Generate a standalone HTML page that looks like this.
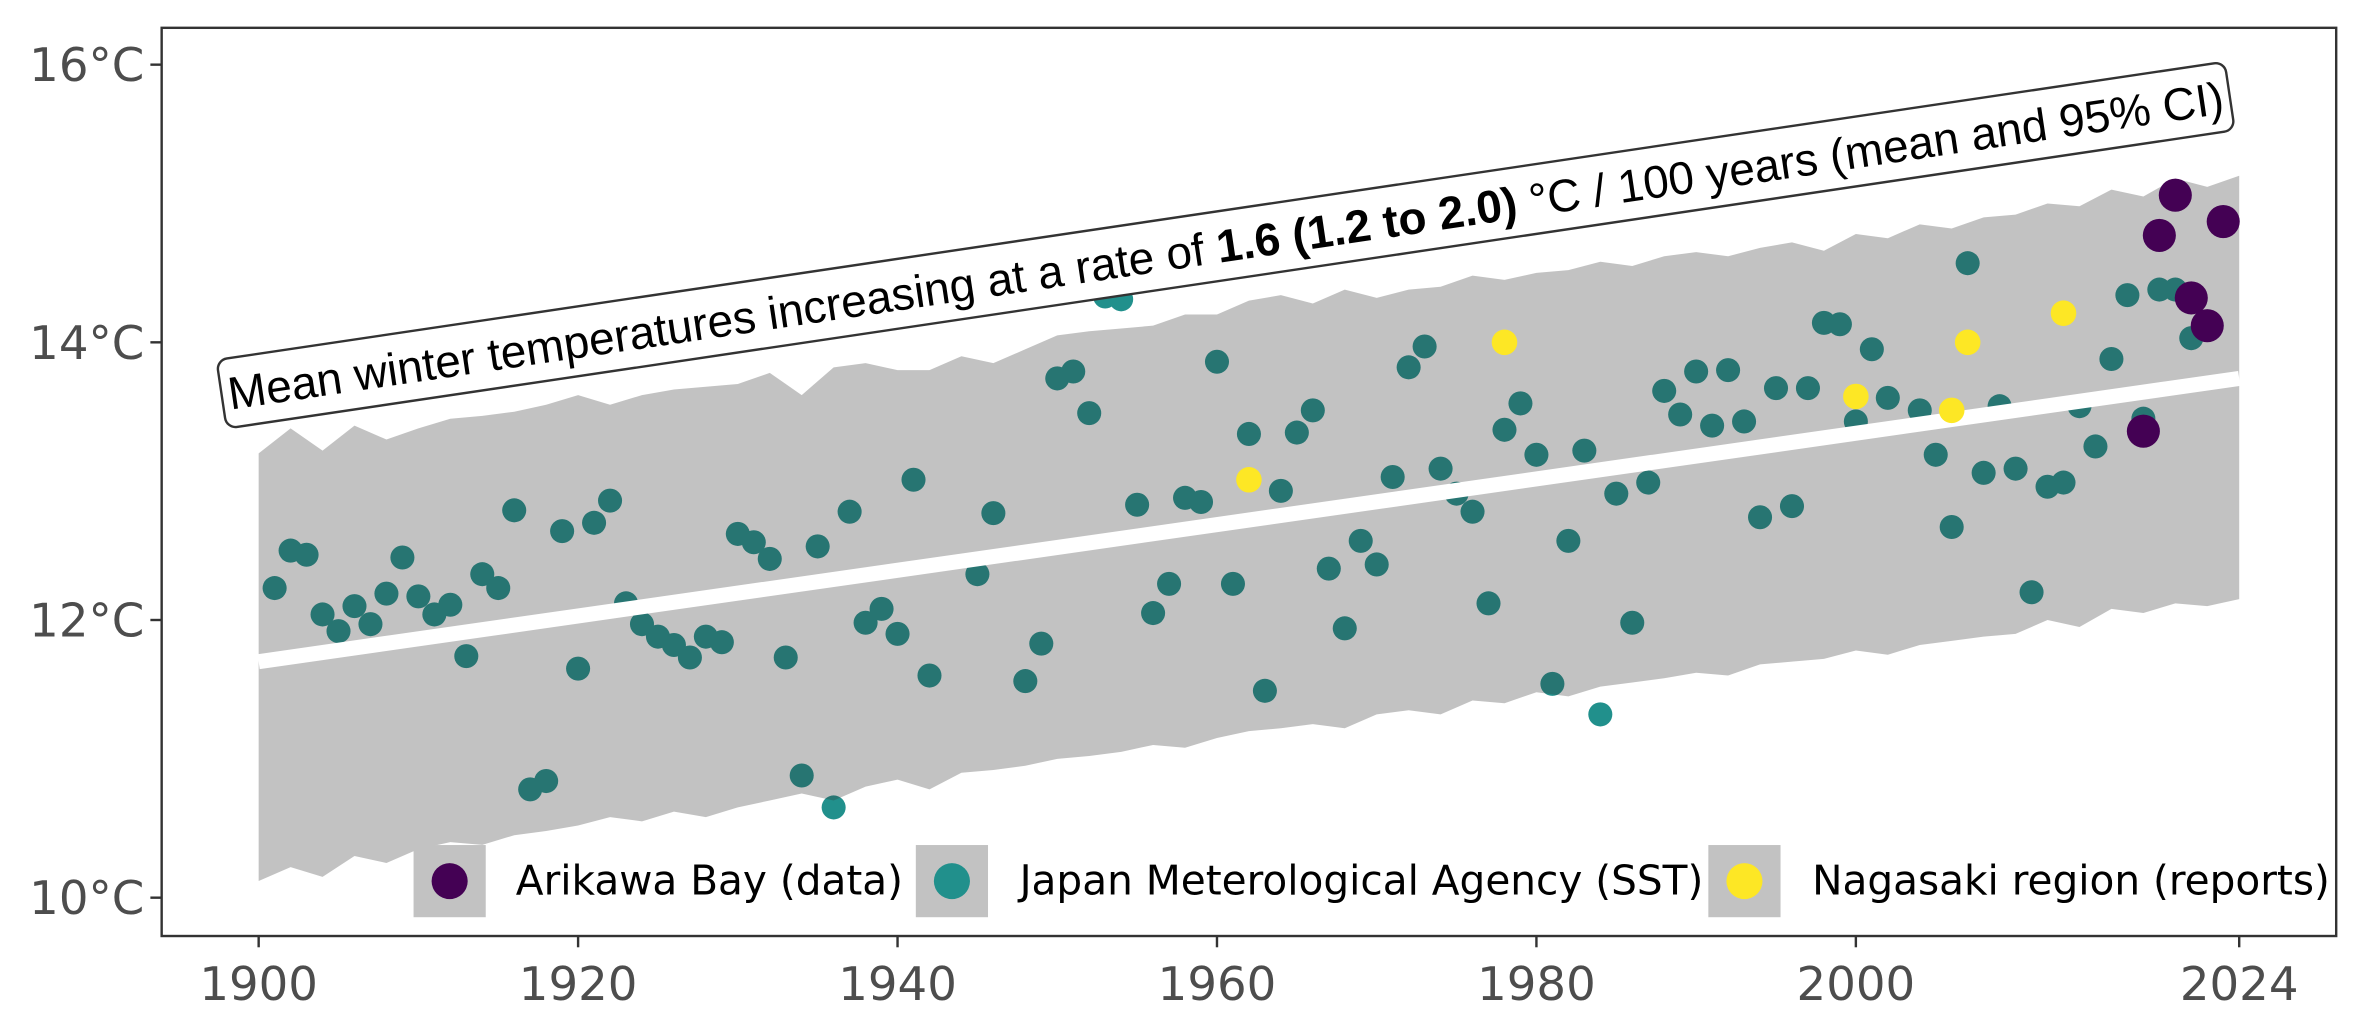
<!DOCTYPE html>
<html><head><meta charset="utf-8">
<style>
html,body{margin:0;padding:0;background:#fff;overflow:hidden;}
svg{display:block;font-family:"Liberation Sans",sans-serif;}
</style></head>
<body>
<svg id="chart" width="2358" height="1033" viewBox="0 0 1568 687" preserveAspectRatio="none" xmlns="http://www.w3.org/2000/svg">
<rect width="1568" height="687" fill="#fff"/>
<g id="points-under"></g>
<g id="ribbon-layer"></g>
<g id="over"></g>
<g id="axes"></g>
<g id="annot"></g>
<g id="legend"></g>
</svg>
<script>
const sstYears=[1901,1902,1903,1904,1905,1906,1907,1908,1909,1910,1911,1912,1913,1914,1915,1916,1917,1918,1919,1920,1921,1922,1923,1924,1925,1926,1927,1928,1929,1930,1931,1932,1933,1934,1935,1936,1937,1938,1939,1940,1941,1942,1945,1946,1948,1949,1950,1951,1952,1953,1954,1955,1956,1957,1958,1959,1960,1961,1962,1963,1964,1965,1966,1967,1968,1969,1970,1971,1972,1973,1974,1975,1976,1977,1978,1979,1980,1981,1982,1983,1984,1985,1986,1987,1988,1989,1990,1991,1992,1993,1994,1995,1996,1997,1998,1999,2000,2001,2002,2004,2005,2006,2007,2008,2009,2010,2011,2012,2013,2014,2015,2016,2017,2018,2019,2020,2021];
const sstTemps=[12.23,12.50,12.47,12.04,11.92,12.10,11.97,12.19,12.45,12.17,12.04,12.11,11.74,12.33,12.23,12.79,10.78,10.84,12.64,11.65,12.70,12.86,12.12,11.97,11.88,11.82,11.73,11.88,11.84,12.62,12.56,12.44,11.73,10.88,12.53,10.65,12.78,11.98,12.08,11.90,13.01,11.60,12.33,12.77,11.56,11.83,13.74,13.79,13.49,14.33,14.31,12.83,12.05,12.26,12.88,12.85,13.86,12.26,13.34,11.49,12.93,13.35,13.51,12.37,11.94,12.57,12.40,13.03,13.82,13.97,13.09,12.91,12.78,12.12,13.37,13.56,13.19,11.54,12.57,13.22,11.32,12.91,11.98,12.99,13.65,13.48,13.79,13.40,13.80,13.43,12.74,13.67,12.82,13.67,14.14,14.13,13.43,13.95,13.60,13.51,13.19,12.67,14.57,13.06,13.54,13.09,12.20,12.96,12.99,13.54,13.25,13.88,14.34,13.45,14.38,14.38,14.03];
const arikawaYears=[2018,2019,2020,2021,2022,2023];
const arikawaTemps=[13.36,14.77,15.06,14.32,14.12,14.87];
const nagasakiYears=[1962,1978,2000,2006,2007,2013];
const nagasakiTemps=[13.01,14.00,13.61,13.51,14.00,14.21];
const bandYears=[1900,1902,1904,1906,1908,1910,1912,1914,1916,1918,1920,1922,1924,1926,1928,1930,1932,1934,1936,1938,1940,1942,1944,1946,1948,1950,1952,1954,1956,1958,1960,1962,1964,1966,1968,1970,1972,1974,1976,1978,1980,1982,1984,1986,1988,1990,1992,1994,1996,1998,2000,2002,2004,2006,2008,2010,2012,2014,2016,2018,2020,2022,2024];
const bandUpper=[13.20,13.38,13.22,13.40,13.30,13.38,13.45,13.47,13.50,13.55,13.62,13.55,13.62,13.66,13.68,13.70,13.78,13.62,13.82,13.85,13.80,13.80,13.90,13.85,13.95,14.05,14.08,14.10,14.12,14.20,14.20,14.30,14.34,14.28,14.38,14.32,14.38,14.40,14.48,14.45,14.50,14.52,14.58,14.55,14.62,14.65,14.62,14.68,14.72,14.66,14.78,14.75,14.85,14.82,14.90,14.92,15.00,14.98,15.10,15.05,15.18,15.12,15.20];
const bandLower=[10.12,10.22,10.15,10.30,10.25,10.35,10.40,10.38,10.45,10.48,10.52,10.58,10.55,10.62,10.58,10.65,10.70,10.75,10.70,10.80,10.85,10.78,10.90,10.92,10.95,11.00,11.02,11.05,11.10,11.08,11.15,11.20,11.22,11.25,11.22,11.32,11.35,11.32,11.42,11.40,11.48,11.45,11.52,11.55,11.58,11.62,11.60,11.68,11.70,11.72,11.78,11.75,11.82,11.85,11.88,11.90,12.00,11.95,12.08,12.05,12.12,12.10,12.15];
const trendYears=[1900,2024];
const trendTemps=[11.70,13.74];
const xTicks=[1900,1920,1940,1960,1980,2000,2024];
const yTicks=[10,12,14,16];

const NS="http://www.w3.org/2000/svg";
const X=yr=>172+(yr-1900)*(1489-172)/124;
const Y=t=>597-(t-10)*(597-43)/6;
function mk(tag,attrs,parent,text){const e=document.createElementNS(NS,tag);for(const k in attrs)e.setAttribute(k,attrs[k]);if(text!==undefined)e.textContent=text;parent.appendChild(e);return e;}

const under=document.getElementById('points-under');
sstYears.forEach((yr,i)=>{const c=mk('circle',{cx:X(yr),cy:Y(sstTemps[i]),r:8,fill:'#21908c'},under);

});

const rib=document.getElementById('ribbon-layer');
let d='M'+bandYears.map((yr,i)=>X(yr)+','+Y(bandUpper[i])).join('L');
for(let i=bandYears.length-1;i>=0;i--)d+='L'+X(bandYears[i])+','+Y(bandLower[i]);
d+='Z';
const rp=mk('path',{d:d,fill:'rgb(55,55,55)','fill-opacity':0.306},rib);


const tl=mk('line',{x1:X(trendYears[0]),y1:Y(trendTemps[0]),x2:X(trendYears[1]),y2:Y(trendTemps[1]),stroke:'#fff','stroke-width':10},rib);



const over=document.getElementById('over');
nagasakiYears.forEach((yr,i)=>{const c=mk('circle',{cx:X(yr),cy:Y(nagasakiTemps[i]),r:8.5,fill:'#fde725'},over);

});
arikawaYears.forEach((yr,i)=>{const c=mk('circle',{cx:X(yr),cy:Y(arikawaTemps[i]),r:11,fill:'#440154'},over);

});

const ax=document.getElementById('axes');
const frame=mk('rect',{x:107.5,y:18.5,width:1446,height:604,fill:'none',stroke:'#333',"stroke-width":1.6},ax);


yTicks.forEach(t=>{mk('line',{x1:100,x2:107,y1:Y(t),y2:Y(t),stroke:'#333','stroke-width':1.6},ax);
const tx=mk('text',{x:96,y:Y(t)+11,'text-anchor':'end','font-size':31,fill:'#4d4d4d','font-family':'"DejaVu Sans","Liberation Sans",sans-serif'},ax,t+'°C');

});
xTicks.forEach(t=>{mk('line',{x1:X(t),x2:X(t),y1:623,y2:630,stroke:'#333','stroke-width':1.6},ax);
const tx=mk('text',{x:X(t),y:665,'text-anchor':'middle','font-size':31,fill:'#4d4d4d','font-family':'"DejaVu Sans","Liberation Sans",sans-serif'},ax,String(t));

});

const an=document.getElementById('annot');
const g=mk('g',{transform:'rotate(-8.45 815 163)'},an);
const br=mk('rect',{x:140,y:140,width:1350,height:46,rx:7,fill:'#fff',stroke:'#333','stroke-width':1.6},g);


const at=mk('text',{x:815,y:174,'text-anchor':'middle','font-size':30.5,fill:'#000'},g);


mk('tspan',{},at,'Mean winter temperatures increasing at a rate of ');
mk('tspan',{'font-weight':'bold'},at,'1.6 (1.2 to 2.0)');
mk('tspan',{},at,' °C / 100 years (mean and 95% CI)');

const lg=document.getElementById('legend');
const items=[['Arikawa Bay (data)','#440154',275,343],['Japan Meterological Agency (SST)','#21908c',609,678],['Nagasaki region (reports)','#fde725',1136,1205]];
items.forEach(it=>{
const k=mk('rect',{x:it[2],y:562,width:48,height:48,fill:'#c2c2c2'},lg);


const c=mk('circle',{cx:it[2]+24,cy:586,r:12,fill:it[1]},lg);


const t=mk('text',{x:it[3],y:595,'font-size':27,fill:'#000','font-family':'"DejaVu Sans","Liberation Sans",sans-serif'},lg,it[0]);


});
</script>
</body></html>
